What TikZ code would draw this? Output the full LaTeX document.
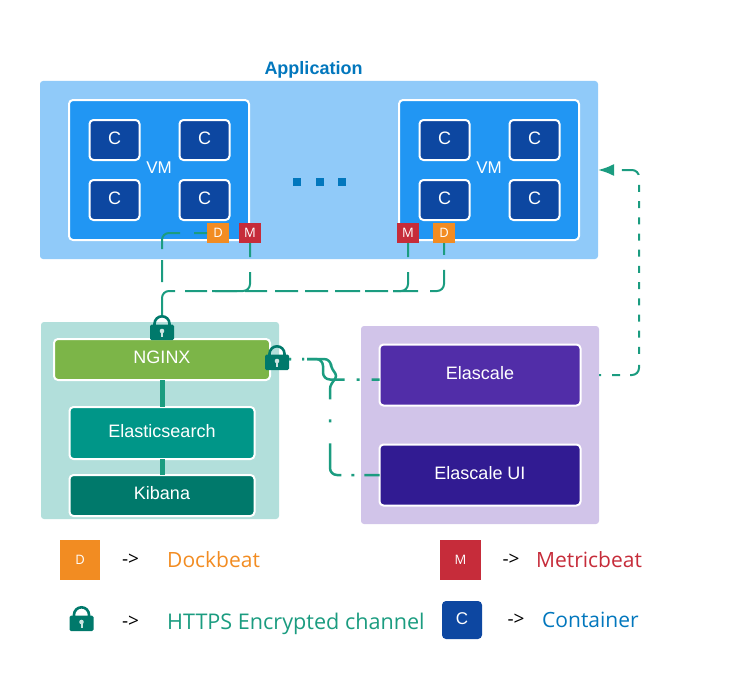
\documentclass[tikz,border=0pt]{standalone}
\usepackage{fontspec}
\setmainfont{Liberation Sans}
\newfontfamily\legendfont{Open Sans}
\usetikzlibrary{arrows.meta}
\definecolor{linkgreen}{HTML}{1B9C80}
\definecolor{lockgreen}{HTML}{00796B}
\definecolor{beatorange}{HTML}{F28C22}
\definecolor{beatred}{HTML}{C62C3A}
\definecolor{titleblue}{HTML}{0277BD}
\definecolor{containerblue}{HTML}{0D47A1}
\definecolor{appblue}{HTML}{90CAF9}
\definecolor{vmblue}{HTML}{2196F3}
\definecolor{elkpanel}{HTML}{B2DFDB}
\definecolor{nginxgreen}{HTML}{7CB548}
\definecolor{esteal}{HTML}{009688}
\definecolor{elapanel}{HTML}{D1C4E9}
\definecolor{elaviolet}{HTML}{512DA8}
\definecolor{uiviolet}{HTML}{311B92}
\tikzset{
    panel/.style = {shape = rectangle, rounded corners = 3, fill = #1, inner sep = 0, outer sep = 0},
    box/.style = {shape = rectangle, rounded corners = 4, draw = white, line width = 2, fill = #1,
        text = white, inner sep = 0, outer sep = 0, font = \fontsize{18}{20}\selectfont},
    containerbox/.style = {box = containerblue, minimum width = 51, minimum height = 40},
    vmbox/.style = {box = vmblue, minimum width = 180, minimum height = 140},
    boxtext/.style = {text = white, inner sep = 0, font = \fontsize{18}{20}\selectfont},
    badge/.style = {shape = rectangle, fill = #1, text = white, inner sep = 0, outer sep = 0,
        minimum width = 22, minimum height = 20, font = \legendfont\fontsize{13}{15}\selectfont},
    keybox/.style = {shape = rectangle, fill = #1, text = white, inner sep = 0, outer sep = 0,
        minimum width = 40, minimum height = 40, font = \legendfont\fontsize{13}{15}\selectfont},
    label/.style = {inner sep = 0, font = \legendfont\fontsize{21}{24}\selectfont, text = #1, anchor = west},
    arrowtext/.style = {inner sep = 0, font = \legendfont\fontsize{19}{20}\selectfont},
    link/.style = {draw = linkgreen, line width = 2, rounded corners = 7},
    sidelink/.style = {link, line width = 2.5},
    stack/.style = {draw = linkgreen, line width = 5},
    lockicon/.style = {shape = rectangle, inner sep = 0, outer sep = 0,
        minimum width = 24 * #1, minimum height = 25 * #1,
        path picture = {
            \begin{scope}[shift = {(path picture bounding box.center)}, scale = #1]
                \draw[lockgreen, line width = 2.6] (-7.5, 0) -- (-7.5, -3.7) arc [start angle = 180, end angle = 360, radius = 7.5] -- (7.5, 0);
                \fill[lockgreen, rounded corners = 1.5] (-12, -3) rectangle (12, 12.5);
                \fill[white!80!lockgreen] (0, 3.5) circle [radius = 2.3];
                \fill[white!80!lockgreen] (-1, 3.5) rectangle (1, 9);
            \end{scope}
        }}
}
\begin{document}
\begin{tikzpicture}[x = 1pt, y = -1pt]
    \useasboundingbox (0, 0) rectangle (731, 685);
    % application
    \node[panel = appblue, minimum width = 558, minimum height = 178] (appPanel) at (319, 170) {};
    \node[font = \bfseries\fontsize{18}{20}\selectfont, text = titleblue, inner sep = 0] (appTitle) at (313.5, 69.5) {Application};
    \foreach \name/\x in {vmA/159, vmB/489} {
        \node[vmbox] (\name) at (\x, 170) {};
        \node[boxtext, font = \fontsize{17}{20}\selectfont] (\name Text) at (\x, 168) {VM};
        \foreach \cname/\dx/\dy in {a/-45/-30, b/45/-30, c/-45/30, d/45/30} {
            \node[containerbox, minimum width = 50] (\name\cname) at (\x + \dx + 0.5, 170 + \dy) {};
            \node[boxtext] (\name\cname Text) at (\x + \dx + 0.5, 168 + \dy) {C};
        }
    }
    \foreach \name/\x in {dotA/297, dotB/319.5, dotC/341.7} {
        \node[shape = rectangle, fill = titleblue, minimum size = 8, inner sep = 0] (\name) at (\x, 182) {};
    }
    \node[badge = beatorange] (dockA) at (218, 233) {D};
    \node[badge = beatred] (metricA) at (250, 233) {M};
    \node[badge = beatred] (metricB) at (408, 233) {M};
    \node[badge = beatorange] (dockB) at (444, 233) {D};
    % elk stack
    \node[panel = elkpanel, minimum width = 238, minimum height = 197] (elkPanel) at (160, 420.5) {};
    \node[box = nginxgreen, minimum width = 216, minimum height = 41] (nginx) at (162, 359.5) {};
    \node[box = esteal, minimum width = 185, minimum height = 52] (elastic) at (162, 433) {};
    \node[box = lockgreen, minimum width = 185, minimum height = 41] (kibana) at (162, 495.5) {};
    \node[boxtext] (nginxText) at (162, 357) {NGINX};
    \node[boxtext] (elasticText) at (162, 431) {Elasticsearch};
    \node[boxtext] (kibanaText) at (162, 493) {Kibana};
    \draw[stack] (nginx) -- (elastic);
    \draw[stack] (elastic) -- (kibana);
    % elascale
    \node[panel = elapanel, minimum width = 238, minimum height = 198] (elaPanel) at (480, 425) {};
    \node[box = elaviolet, minimum width = 201, minimum height = 61] (elascale) at (480, 375) {};
    \node[box = uiviolet, minimum width = 201, minimum height = 61] (elascaleUi) at (480, 475) {};
    \node[boxtext] (elascaleText) at (480, 373) {Elascale};
    \node[boxtext] (elascaleUiText) at (480, 473) {Elascale UI};
    % locks
    \node[lockicon = 1] (lockTop) at (162, 327.5) {};
    \node[lockicon = 1] (lockSide) at (277, 357.5) {};
    % connectors
    \coordinate (dockEnd) at (162, 282);
    \coordinate (busCorner) at (444, 291);
    \coordinate (sideA) at (323, 359);
    \coordinate (sideBend) at (323, 379.5);
    \coordinate (sideB) at (331, 359);
    \coordinate (sideC) at (331, 367);
    \coordinate (sideD) at (337, 376);
    \coordinate (sideE) at (330, 386);
    \draw[link, dash pattern = on 13 off 14 on 31 off 11 on 30] (dockA.west) -| (dockEnd);
    \draw[link, dash pattern = on 34 off 10 on 22 off 8 on 22 off 8 on 22 off 8 on 23 off 7 on 23 off 7 on 25 off 5 on 23 off 5 on 25 off 12 on 32 off 15 on 16]
        (lockTop.north) |- (busCorner) -- (dockB.south);
    \draw[link, dash pattern = on 14 off 15 on 57] (metricA.south) -- (metricA.south |- busCorner) -- ++(-38, 0);
    \draw[link, dash pattern = on 14 off 15 on 34] (metricB.south) -- (metricB.south |- busCorner) -- ++(-15, 0);
    \draw[sidelink, dash pattern = on 2 off 11 on 2 off 3 on 52 off 12 on 3 off 12 on 20] (lockSide.east |- sideA) -- (sideA) -- (sideBend) -- (sideBend -| elascale.west);
    \draw[sidelink, dash pattern = on 2 off 11 on 2 off 3 on 68 off 20 on 3 off 21 on 40 off 10 on 3 off 10 on 20]
        (lockSide.east |- sideB) -- (sideB) {[rounded corners = 3] -- (sideC) -- (sideD) -- (sideE)} -- (sideE |- elascaleUi.west) -- (elascaleUi.west);
    \coordinate (rightBottom) at (639, 375);
    \draw[link, -{Latex[length = 16, width = 12]}, dash pattern = on 2 off 11 on 8 off 10 on 16 off 11 on 7 off 9.2 on 7 off 9.2 on 7 off 9.2 on 7 off 9.2 on 7 off 9.2 on 7 off 9.2 on 7 off 9.2 on 7 off 9.2 on 7 off 9.2 on 7 off 9.2 on 7 off 10 on 19 off 10 on 20]
        (elaPanel.east |- rightBottom) -- (rightBottom) |- (appPanel.east);
    % legend
    \node[keybox = beatorange] (keyDock) at (80, 560) {D};
    \node[arrowtext] (arrowDock) at (130.5, 560) {->};
    \node[label = beatorange] (textDock) at (167, 560) {Dockbeat};
    \node[keybox = beatred, minimum width = 41] (keyMetric) at (460.5, 560) {M};
    \node[arrowtext] (arrowMetric) at (511, 560) {->};
    \node[label = beatred] (textMetric) at (536, 560) {Metricbeat};
    \node[lockicon = 1.15] (keyLock) at (81.5, 618.5) {};
    \node[arrowtext] (arrowLock) at (130.5, 622) {->};
    \node[label = linkgreen, font = \legendfont\fontsize{21.6}{24}\selectfont] (textLock) at (167, 624) {HTTPS Encrypted channel};
    \node[box = containerblue, draw = none, minimum width = 40, minimum height = 38] (keyContainer) at (462, 620) {};
    \node[boxtext, font = \fontsize{17}{20}\selectfont] (keyContainerText) at (462, 618.5) {C};
    \node[arrowtext] (arrowContainer) at (516, 620) {->};
    \node[label = titleblue] (textContainer) at (542, 620) {Container};
\end{tikzpicture}
\end{document}
